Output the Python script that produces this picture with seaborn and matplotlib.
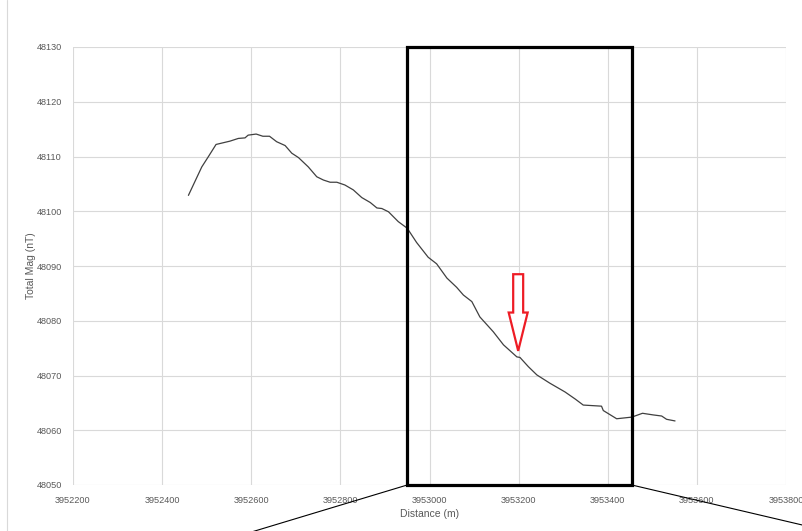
import matplotlib
matplotlib.use("Agg")
import matplotlib.pyplot as plt
import seaborn as sns
import pandas as pd
from matplotlib.patches import Rectangle, FancyArrow
from matplotlib.lines import Line2D

# ---- data ----
distance_m = [3952459, 3952489, 3952504, 3952521, 3952552, 3952571, 3952586, 3952593,
              3952611, 3952626, 3952641, 3952657, 3952676, 3952691, 3952706, 3952728,
              3952747, 3952762, 3952777, 3952792, 3952810, 3952829, 3952848, 3952867,
              3952882, 3952893, 3952908, 3952930, 3952950, 3952971, 3952997, 3953016,
              3953039, 3953061, 3953076, 3953095, 3953113, 3953143, 3953166, 3953196,
              3953203, 3953222, 3953241, 3953270, 3953304, 3953327, 3953345, 3953386,
              3953390, 3953420, 3953454, 3953478, 3953502, 3953521, 3953532, 3953551]
total_mag_nT = [48102.9, 48108.1, 48110.0, 48112.2, 48112.8, 48113.3, 48113.4, 48113.9,
                48114.1, 48113.7, 48113.7, 48112.7, 48112.0, 48110.6, 48109.8, 48108.1,
                48106.3, 48105.7, 48105.3, 48105.3, 48104.8, 48103.9, 48102.5, 48101.6,
                48100.6, 48100.5, 48099.9, 48098.1, 48096.9, 48094.3, 48091.6, 48090.4,
                48087.8, 48086.1, 48084.7, 48083.5, 48080.7, 48078.0, 48075.6, 48073.4,
                48073.3, 48071.6, 48070.1, 48068.6, 48067.0, 48065.7, 48064.6, 48064.4,
                48063.6, 48062.1, 48062.4, 48063.1, 48062.8, 48062.6, 48062.0, 48061.7]

x_ticks = list(range(3952200, 3953801, 200))
y_ticks = list(range(48050, 48131, 10))

highlight_range = [3952950, 3953454]   # boxed distance window
arrow_x = 3953199                      # arrow position
arrow_top, arrow_tip = 48088.5, 48074.5
connector_left_end = (3952437, 48037.4)
connector_right_end = (3954030, 48039.0)

df = pd.DataFrame({"Distance (m)": distance_m, "Total Mag (nT)": total_mag_nT})

sns.set_theme(style="white")
plt.rcParams['font.family'] = ['Liberation Sans', 'DejaVu Sans']

fig = plt.figure(figsize=(8.03, 5.31), dpi=100)
ax = fig.add_axes([73/803, 46/531, 713/803, 438/531])

sns.lineplot(data=df, x="Distance (m)", y="Total Mag (nT)", ax=ax,
             color="#404040", linewidth=0.9, sort=False, zorder=3)

ax.set_xlim(x_ticks[0], x_ticks[-1])
ax.set_ylim(y_ticks[0], y_ticks[-1])
ax.set_xticks(x_ticks)
ax.set_yticks(y_ticks)
ax.set_xticklabels([str(t) for t in x_ticks])
ax.set_yticklabels([str(t) for t in y_ticks])
ax.grid(True, color="#d9d9d9", linewidth=0.8)
ax.set_axisbelow(True)
for s in ax.spines.values():
    s.set_visible(False)
ax.tick_params(axis="both", length=0, labelsize=6.6, labelcolor="#595959")
ax.tick_params(axis="x", pad=8)
ax.tick_params(axis="y", pad=8)
ax.set_xlabel("Distance (m)", fontsize=7.5, color="#595959", labelpad=3)
ax.set_ylabel("Total Mag (nT)", fontsize=7.5, color="#595959", labelpad=0.5)

# highlight box
x0, x1 = highlight_range
ax.add_patch(Rectangle((x0, y_ticks[0]), x1 - x0, y_ticks[-1] - y_ticks[0],
                       fill=False, edgecolor="black", linewidth=2.3,
                       clip_on=False, zorder=5))

# zoom connector lines from the bottom corners
ax.add_line(Line2D([x0, connector_left_end[0]], [y_ticks[0], connector_left_end[1]],
                   color="black", linewidth=0.8, clip_on=False, zorder=5))
ax.add_line(Line2D([x1, connector_right_end[0]], [y_ticks[0], connector_right_end[1]],
                   color="black", linewidth=0.8, clip_on=False, zorder=5))

# red arrow
ax.add_patch(FancyArrow(arrow_x, arrow_top, 0, arrow_tip - arrow_top,
                        width=22.4, head_width=42.6, head_length=7.0,
                        length_includes_head=True, facecolor="white",
                        edgecolor="#ee1c25", linewidth=1.6, zorder=6))

# chart-area left border
fig.add_artist(Line2D([7/803, 7/803], [0, 1], color="#d9d9d9", linewidth=0.8))

fig.savefig("out.png", dpi=100)
